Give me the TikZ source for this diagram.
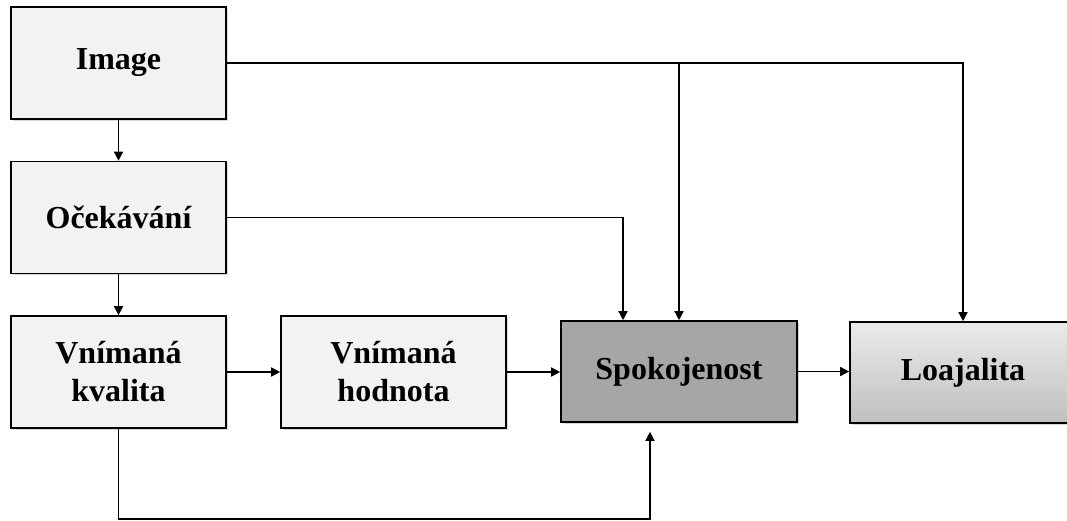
\documentclass[tikz,border=0pt]{standalone}
\usepackage{fontspec}
\setmainfont{Liberation Serif}
\usetikzlibrary{arrows.meta,shadows}
\definecolor{boxgray}{HTML}{F2F2F2}
\definecolor{satgray}{HTML}{A6A6A6}
\begin{document}
\begin{tikzpicture}[x=1pt,y=-1pt,
  blok/.style={draw, line width=1.6pt, fill=boxgray, minimum width=215pt, minimum height=112pt,
    inner sep=0pt, align=center, font=\fontsize{32}{38}\selectfont\bfseries,
    drop shadow={shadow xshift=1.5pt, shadow yshift=-1.5pt, opacity=.3}},
  spoj/.style={line width=1.4pt, -{Triangle[length=9pt,width=9pt]}}]
\useasboundingbox (0,0) rectangle (1067,520);
\node[blok] (img) at (118.5,63){Image};
\node[blok] (ocek) at (118.5,217.5){Očekávání};
\node[blok] (kval) at (118.5,372){Vnímaná\\kvalita};
\node[blok, minimum width=225pt] (hodn) at (393.5,372){Vnímaná\\hodnota};
\node[blok, minimum width=236pt, minimum height=101pt, fill=satgray] (spok) at (679,371.5){Spokojenost};
\node[blok, minimum width=226pt, minimum height=101pt, top color=black!8, bottom color=black!25] (loaj) at (963,372.5){Loajalita};
\draw[spoj](img) -- (ocek);
\draw[spoj](ocek) -- (kval);
\draw[spoj](kval) -- (hodn);
\draw[spoj](hodn.east) -- (hodn.east -| spok.west);
\draw[spoj](spok.east) -- (spok.east -| loaj.west);
\draw[spoj](img.east) -| (spok.north);
\draw[spoj](img.east) -| (loaj.north);
\draw[spoj](ocek.east) -| ([xshift=-56pt]spok.north);
\draw[spoj, shorten >=9pt](kval.south) -- ++(0,90) -| ([xshift=-29pt]spok.south);
\end{tikzpicture}
\end{document}
